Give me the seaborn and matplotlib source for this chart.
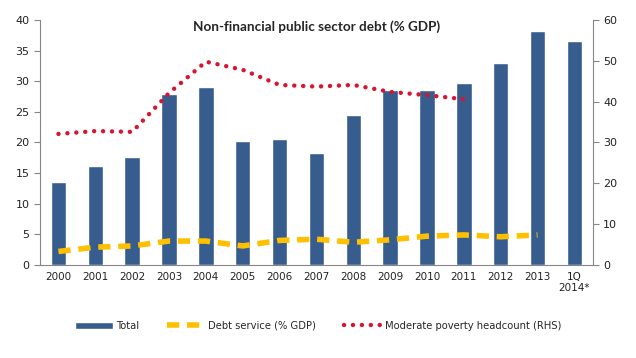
import matplotlib
matplotlib.use("Agg")
import matplotlib.pyplot as plt
import numpy as np
import pandas as pd
import seaborn as sns

years = ["2000", "2001", "2002", "2003", "2004", "2005", "2006", "2007",
         "2008", "2009", "2010", "2011", "2012", "2013", "1Q\n2014*"]
total = [13.5, 16.2, 17.6, 28.0, 29.0, 20.2, 20.6, 18.3,
         24.5, 28.5, 28.6, 29.7, 33.0, 38.2, 36.6]
debt_service = [2.2, 2.9, 3.1, 3.9, 3.9, 3.1, 4.0, 4.2,
                3.7, 4.1, 4.7, 4.9, 4.6, 4.9, np.nan]
poverty = [32.1, 32.8, 32.6, 42.1, 49.8, 47.8, 44.1, 43.7,
           44.1, 42.4, 41.6, 40.6, np.nan, np.nan, np.nan]

df = pd.DataFrame({"year": years, "total": total,
                   "debt": debt_service, "poverty": poverty})
df["pos"] = np.arange(len(df))

sns.set_style("white")
plt.rcParams["font.family"] = ["DejaVu Sans"]

BLUE = "#375D8E"
YELLOW = "#FFC000"
RED = "#D7152F"
GREY = "#868686"

fig = plt.figure(figsize=(6.36, 3.58), dpi=100)
ax = fig.add_axes([0.063, 0.26, 0.869, 0.684])

sns.barplot(data=df, x="year", y="total", color=BLUE, width=0.42,
            saturation=1, ax=ax, label="Total")
sns.lineplot(data=df, x="pos", y="debt", ax=ax, color=YELLOW, lw=4,
             label="Debt service (% GDP)", zorder=3)
ax.lines[-1].set_dashes((2.2, 1.4))

ax2 = ax.twinx()
sns.lineplot(data=df, x="pos", y="poverty", ax=ax2, color=RED, lw=3.2,
             label="Moderate poverty headcount (RHS)")
ax2.lines[-1].set_dashes((0.01, 2.0))
ax2.lines[-1].set_dash_capstyle("round")

ax.set_xlim(-0.5, len(df) - 0.5)
ax.set_ylim(0, 40)
ax.set_yticks(range(0, 41, 5))
ax2.set_ylim(0, 60)
ax2.set_yticks(range(0, 61, 10))

# ticks between categories, labels centered
ax.set_xticks(np.arange(-0.5, len(df), 1.0))
ax.set_xticklabels([])
ax.set_xticks(df["pos"], minor=True)
ax.set_xticklabels(years, minor=True)
ax.tick_params(axis="x", which="minor", length=0, labelsize=7.5, pad=5)
ax.tick_params(axis="x", which="major", length=4, color=GREY, direction="out")
ax.tick_params(axis="y", length=4, color=GREY, labelsize=8, direction="out")
ax2.tick_params(axis="y", length=4, color=GREY, labelsize=8, direction="out")
for lbl in ax.get_xticklabels(minor=True) + ax.get_yticklabels() + ax2.get_yticklabels():
    lbl.set_color("#222222")

ax.set_xlabel("")
ax.set_ylabel("")
ax2.set_ylabel("")
for a in (ax, ax2):
    a.spines["top"].set_visible(False)
    a.spines["left"].set_color(GREY)
    a.spines["right"].set_color(GREY)
    a.spines["bottom"].set_color(GREY)
ax.spines["right"].set_visible(False)
ax2.spines["left"].set_visible(False)
ax2.spines["bottom"].set_visible(False)

ax.text(0.5, 0.972, "Non-financial public sector debt (% GDP)",
        transform=ax.transAxes, ha="center", va="center", fontsize=9.7,
        fontweight="bold", family=["Lato", "DejaVu Sans"])

h1, l1 = ax.get_legend_handles_labels()
h2, l2 = ax2.get_legend_handles_labels()
for a in (ax, ax2):
    if a.legend_:
        a.legend_.remove()
pairs = dict(zip(l1 + l2, h1 + h2))
order = ["Total", "Debt service (% GDP)", "Moderate poverty headcount (RHS)"]
fig.legend([pairs[k] for k in order], order, loc="center",
           bbox_to_anchor=(0.5, 0.09), ncol=3, frameon=False, fontsize=7.2,
           handlelength=3.8, columnspacing=2.8, handletextpad=0.3)

fig.savefig("out.png", dpi=100)
